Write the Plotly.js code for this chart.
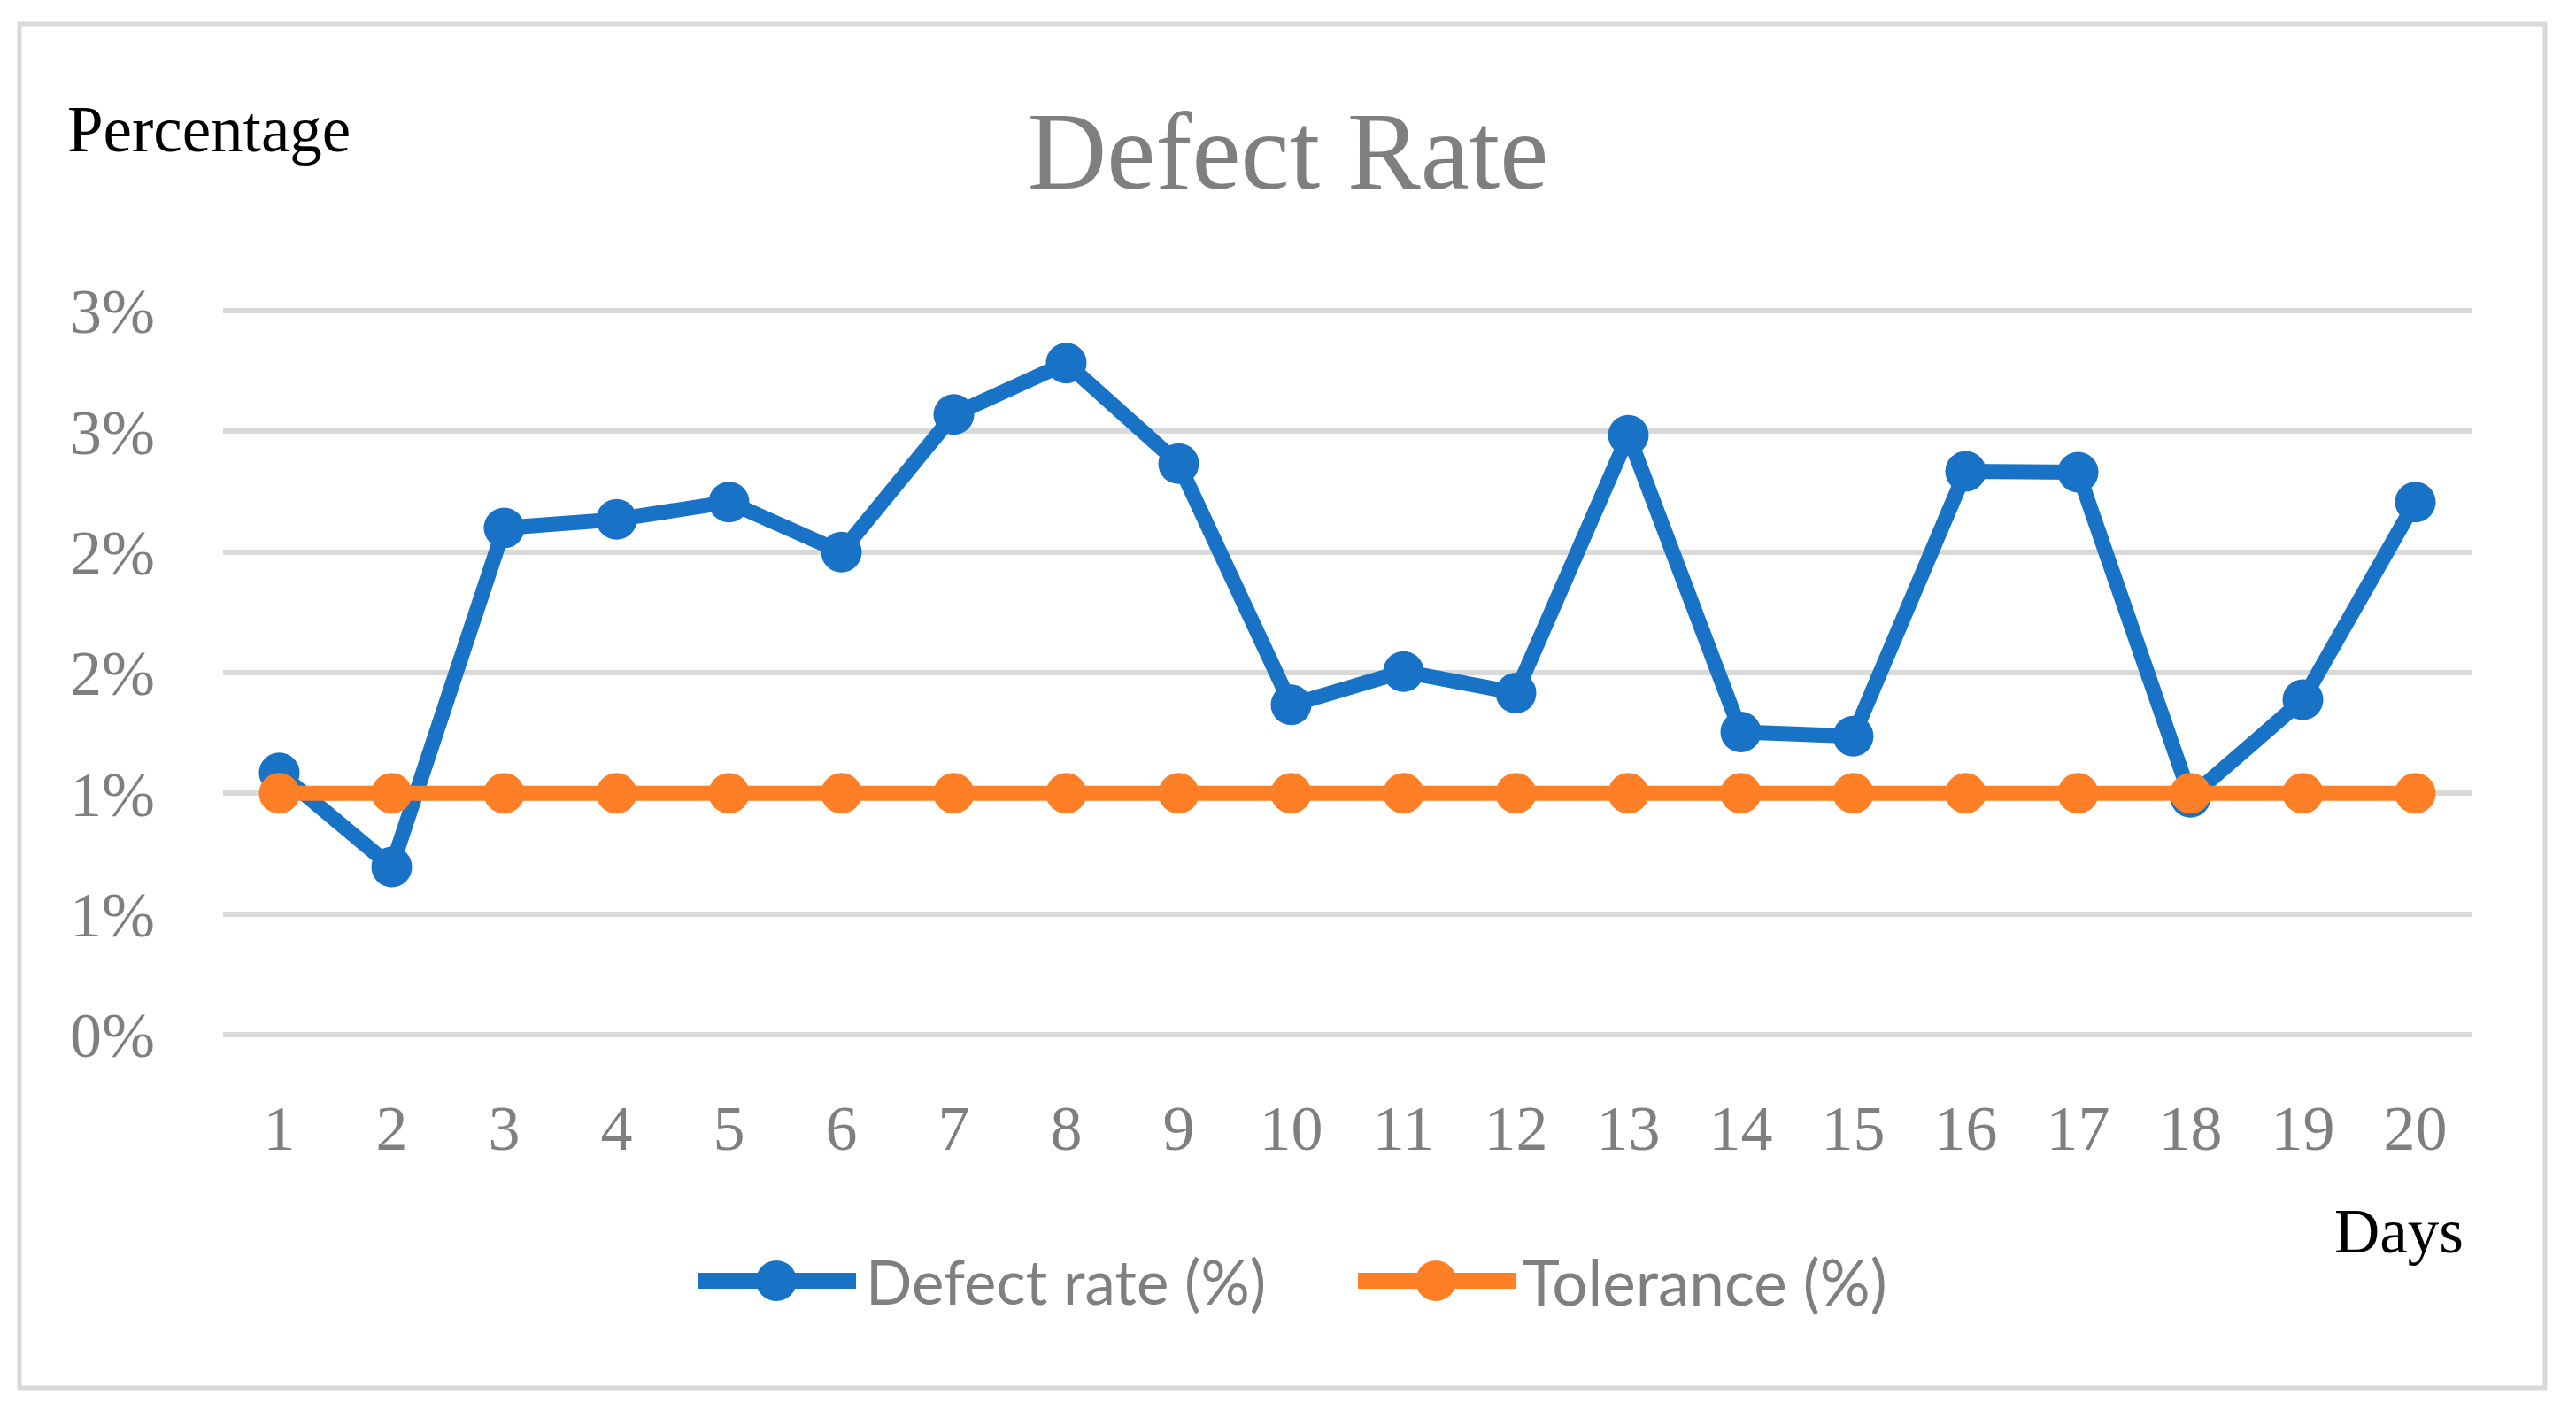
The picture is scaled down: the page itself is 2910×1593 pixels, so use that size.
<!DOCTYPE html>
<html>
<head>
<meta charset="utf-8">
<script src="https://cdn.plot.ly/plotly-3.0.1.min.js"></script>
<style>
  html, body { margin: 0; padding: 0; background: #ffffff; }
  #chart { width: 2910px; height: 1593px; }
</style>
</head>
<body>
<div id="chart"></div>
<script>
// ---- data ----
const days = [1, 2, 3, 4, 5, 6, 7, 8, 9, 10, 11, 12, 13, 14, 15, 16, 17, 18, 19, 20];
const defectRate = [1.085, 0.695, 2.10, 2.135, 2.207, 2.00, 2.57, 2.783, 2.366, 1.367, 1.505, 1.416, 2.484, 1.254, 1.237, 2.334, 2.331, 0.984, 1.388, 2.207];
const tolerance = [1, 1, 1, 1, 1, 1, 1, 1, 1, 1, 1, 1, 1, 1, 1, 1, 1, 1, 1, 1];
const yTickVals = [0, 0.5, 1, 1.5, 2, 2.5, 3];
const yTickText = ['0%', '1%', '1%', '2%', '2%', '3%', '3%'];
const seriesNames = ['Defect rate (%)', 'Tolerance (%)'];

// ---- layout constants ----
const W = 2910, H = 1593;
const M = { l: 252, r: 118, t: 337, b: 411 };
const BLUE = '#1872C6', ORANGE = '#FF7F27';
const GRAY = '#7f7f7f';
const pw = W - M.l - M.r, ph = H - M.t - M.b;
const px = x => (x - M.l) / pw;
const py = y => (H - M.b - y) / ph;

const traces = [
  {
    x: days, y: defectRate, name: seriesNames[0], type: 'scatter', mode: 'lines+markers',
    line: { color: BLUE, width: 17 },
    marker: { color: BLUE, size: 46 },
    cliponaxis: false
  },
  {
    x: days, y: tolerance, name: seriesNames[1], type: 'scatter', mode: 'lines+markers',
    line: { color: ORANGE, width: 17 },
    marker: { color: ORANGE, size: 46 },
    cliponaxis: false
  }
];

function legendShapes(x0, x1, xm, y, color) {
  return [
    { type: 'line', xref: 'paper', yref: 'paper', x0: px(x0), x1: px(x1), y0: py(y), y1: py(y),
      line: { color: color, width: 18 } },
    { type: 'circle', xref: 'paper', yref: 'paper', xsizemode: 'pixel', ysizemode: 'pixel',
      xanchor: px(xm), yanchor: py(y), x0: -23, x1: 23, y0: -23, y1: 23,
      fillcolor: color, line: { color: color, width: 0 } }
  ];
}

const shapes = [
  { type: 'rect', xref: 'paper', yref: 'paper', x0: px(22), x1: px(2875), y0: py(27), y1: py(1568),
    line: { color: '#d9d9d9', width: 5 }, fillcolor: 'rgba(0,0,0,0)', layer: 'below' }
].concat(legendShapes(788, 967, 877, 1447, BLUE), legendShapes(1534, 1712, 1622, 1447, ORANGE));

const annotations = [
  { text: 'Percentage', xref: 'paper', yref: 'paper', x: px(74), y: py(146), xanchor: 'left', yanchor: 'middle',
    showarrow: false, font: { family: 'Liberation Serif, serif', size: 73, color: '#000000' } },
  { text: 'Days', xref: 'paper', yref: 'paper', x: px(2785), y: py(1391), xanchor: 'right', yanchor: 'middle',
    showarrow: false, font: { family: 'Liberation Serif, serif', size: 71, color: '#000000' } },
  { text: seriesNames[0], xref: 'paper', yref: 'paper', x: px(976), y: py(1447), xanchor: 'left', yanchor: 'middle',
    showarrow: false, font: { family: 'Lato, sans-serif', size: 69, color: GRAY } },
  { text: seriesNames[1], xref: 'paper', yref: 'paper', x: px(1718), y: py(1447), xanchor: 'left', yanchor: 'middle',
    showarrow: false, font: { family: 'Lato, sans-serif', size: 71, color: GRAY } }
];

const layout = {
  width: W, height: H,
  margin: M,
  paper_bgcolor: '#ffffff', plot_bgcolor: '#ffffff',
  showlegend: false,
  title: {
    text: 'Defect Rate', x: 0.5, xref: 'container', xanchor: 'center',
    y: 1 - 170 / H, yref: 'container', yanchor: 'middle',
    font: { family: 'Liberation Serif, serif', size: 124, color: GRAY }
  },
  xaxis: {
    type: 'linear', range: [0.5, 20.5], tickvals: days, ticktext: days.map(String),
    showgrid: false, zeroline: false, showline: false, ticks: '',
    ticklabelstandoff: 44,
    tickfont: { family: 'Liberation Serif, serif', size: 72, color: GRAY }
  },
  yaxis: {
    range: [-13 / 272.67, 3 + 14 / 272.67], tickvals: yTickVals, ticktext: yTickText,
    showgrid: true, gridcolor: '#d9d9d9', gridwidth: 6, zeroline: false, showline: false, ticks: '',
    ticklabelstandoff: 76,
    tickfont: { family: 'Liberation Serif, serif', size: 72, color: GRAY }
  },
  shapes: shapes,
  annotations: annotations
};

Plotly.newPlot('chart', traces, layout, { displayModeBar: false, staticPlot: true });
</script>
</body>
</html>
